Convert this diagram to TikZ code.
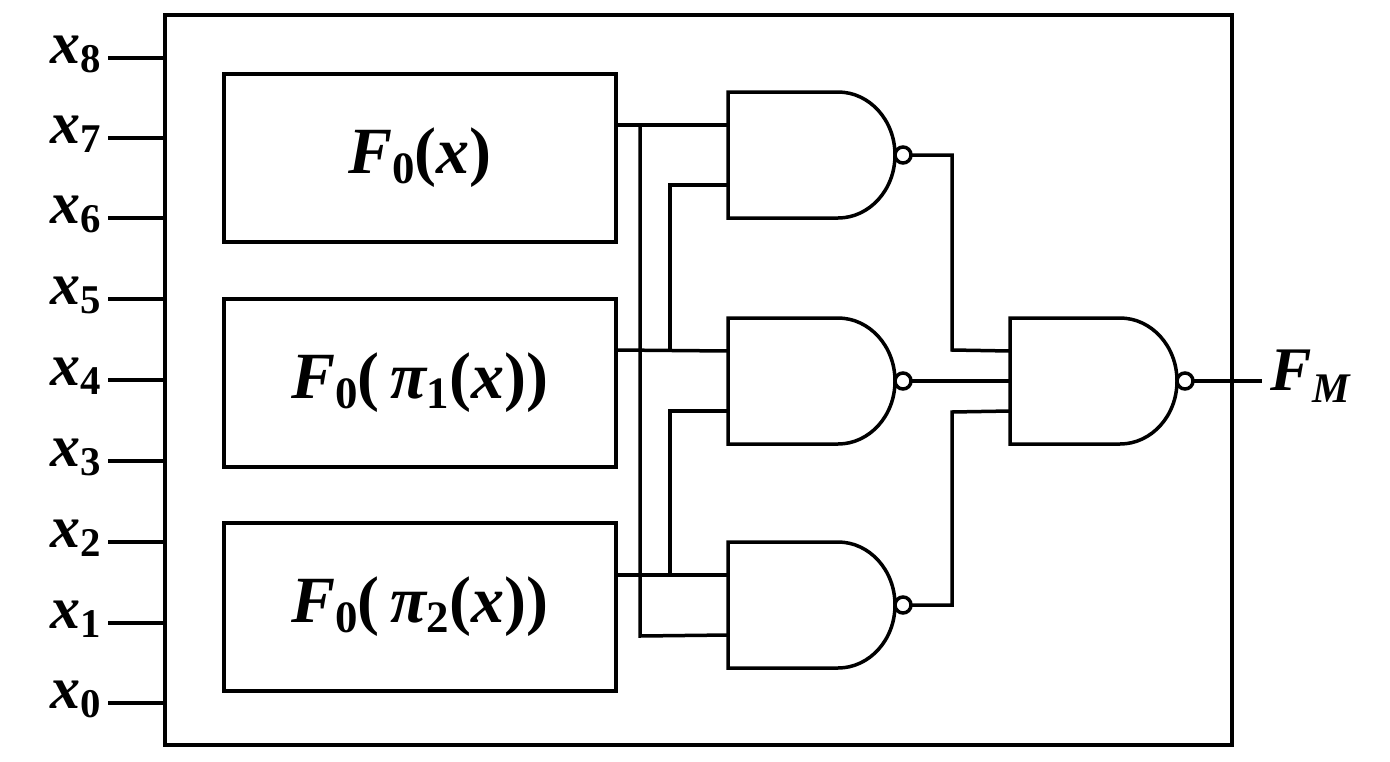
\documentclass[tikz,border=0pt]{standalone}
\usepackage{fontspec}
\setmainfont{Liberation Serif}
\newcommand{\bi}[1]{{\bfseries\itshape #1}}
\newcommand{\sbs}[1]{\raisebox{-0.15em}{\bfseries\upshape\scalebox{0.68}{#1}}}
\begin{document}
\begin{tikzpicture}[x=1pt,y=-1pt,line width=3.5pt,
  box/.style={draw,minimum width=392pt,minimum height=168pt,anchor=north west,font=\fontsize{66}{66}\selectfont},
  lab/.style={font=\fontsize{60}{60}\selectfont,anchor=east,inner sep=1pt}]
\useasboundingbox (0,0) rectangle (1390,761);
\draw (165,15) rectangle (1232,745);
\foreach \i/\y in {8/58,7/138,6/218,5/299,4/380,3/461,2/542,1/623,0/703}{
  \node[lab] (x\i) at (104,\y-4) {\bi{x}\sbs{\i}};
  \draw (108,\y) -- (165,\y);
}
\node[box] (b0) at (222,72) {\bi{F}\sbs{0}\bfseries(\bi{x})};
\node[box] (b1) at (222,297) {\bi{F}\sbs{0}\bfseries(\,\bi{π}\sbs{1}(\bi{x}))};
\node[box] (b2) at (222,521) {\bi{F}\sbs{0}\bfseries(\,\bi{π}\sbs{2}(\bi{x}))};
% gates
\foreach \g/\x/\t in {g1/728/92,g2/728/318,g3/728/542,g4/1010/318}{
  \draw (\x,\t) -- ++(110,0) arc[start angle=-90,end angle=90,x radius=57,y radius=63] -- ++(-110,0) -- cycle;
  \draw (\x+175,\t+63) circle (8);
  \coordinate (\g a) at (\x,\t+33);
  \coordinate (\g b) at (\x,\t+93);
  \coordinate (\g m) at (\x,\t+63);
  \coordinate (\g o) at (\x+183,\t+63);
}
\draw (b0.east |- 0,125) -- (g1a);
\draw (b1.east |- 0,350) -- (g2a);
\draw (b2.east |- 0,575) -- (g3a);
\draw (640,125) -- (640,636) -- (g3b);
\draw (g1b) -| (670,350);
\draw (g2b) -| (670,575);
\draw (g1o) -| (952,350) -- (g4a);
\draw (g2o) -- (g4m);
\draw (g3o) -| (952,412) -- (g4b);
\coordinate (out) at (1262,381);
\draw (g4o) -- (out);
\node[font=\fontsize{62}{62}\selectfont,anchor=west,inner sep=1pt] (fm) at (1268,376) {\bi{F}\raisebox{-0.2em}{\scalebox{0.68}{\bi{M}}}};
\end{tikzpicture}
\end{document}
